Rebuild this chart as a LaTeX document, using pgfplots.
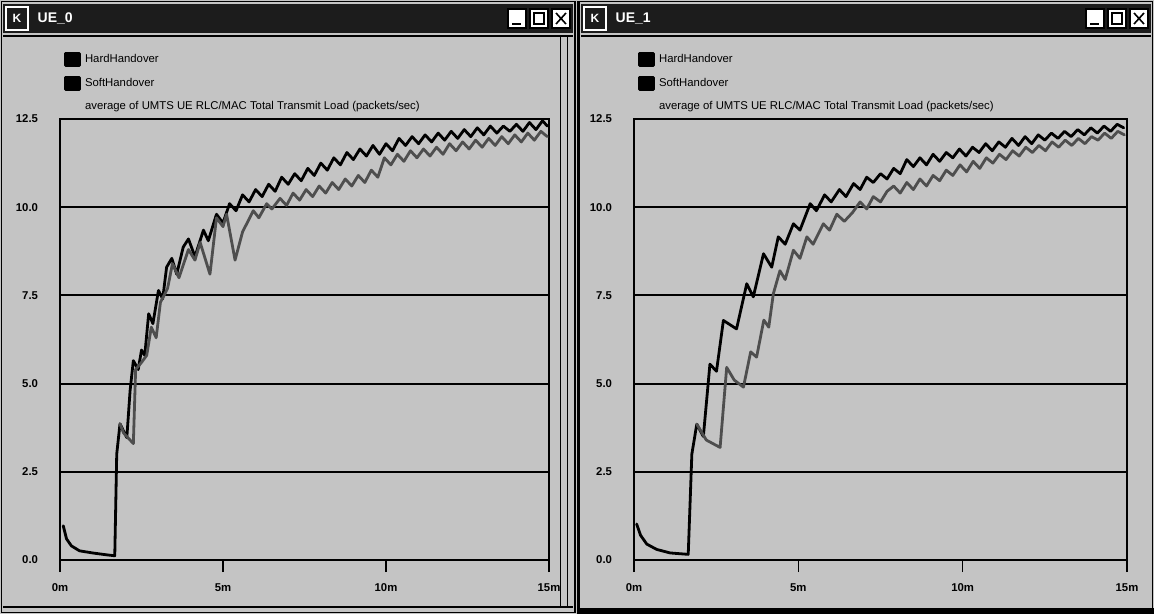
\documentclass[border=0pt]{standalone}
\usepackage{pgfplots}
\pgfplotsset{compat=1.18}
\usepackage{fontspec}
\setmainfont{Liberation Sans}
\definecolor{wingray}{RGB}{196,196,196}
\definecolor{bargray}{RGB}{28,28,28}
\definecolor{softline}{RGB}{78,78,78}

\pgfplotsset{
  panel/.style={
    scale only axis,
    height=330.75pt,
    anchor=south west,
    xmin=0, xmax=15, ymin=0, ymax=12.5,
    xtick={0,5,10,15}, xticklabels={0m,5m,10m,15m},
    ytick={0,2.5,5,7.5,10,12.5},
    yticklabels={0.0,2.5,5.0,7.5,10.0,12.5},
    ymajorgrids,
    major grid style={black, line width=1.5pt},
    axis line style={black, line width=0.8pt},
    x axis line style={line width=1.8pt},
    tick align=outside,
    xtick pos=lower, ytick pos=left,
    major tick length=9pt,
    xtick style={black, line width=1.2pt},
    ytick style={draw=none},
    tick label style={font=\bfseries\fontsize{8.5}{10}\selectfont},
    xticklabel style={yshift=-5pt},
    yticklabel style={xshift=-4pt},
    /pgf/number format/assume math mode=true,
    legend image code/.code={\fill[black] (0pt,-4.5pt) rectangle (10.5pt,4.5pt);},
    legend cell align=left,
    legend style={draw=none, fill=none, anchor=north west,
      font=\fontsize{8.5}{10}\selectfont,
      nodes={inner sep=0.5pt, text height=6.5pt, text depth=2pt},
      row sep=7pt, column sep=2.5pt},
    every axis plot/.append style={line width=2.1pt, line join=round, line cap=round},
  }
}

\begin{document}
\begin{tikzpicture}[x=0.75pt,y=-0.75pt]
\path[use as bounding box] (0,0) rectangle (1154,614);
\fill[wingray] (0,0) rectangle (1154,614);

% ---------- left window chrome ----------
\draw[black, line width=1.2pt] (1.5,1.5) rectangle (575,612.5);
\fill[bargray] (3,4) rectangle (573,33);
\draw[white, line width=0.8pt] (6,7) rectangle (28,30);
\node[white, font=\bfseries\fontsize{9}{10}\selectfont] at (17,18.5) {K};
\node[anchor=west, white, font=\bfseries\fontsize{10.5}{12}\selectfont] at (33,18.5) {UE\_0};
\foreach \bx in {508,530,552}{\fill[white] (\bx,9) rectangle (\bx+18,28); \draw[black, line width=0.8pt] (\bx,9) rectangle (\bx+18,28);}
\draw[black, line width=1.2pt] (512,24) -- (521,24);
\draw[black, line width=1pt] (534,13) rectangle (544,24);
\draw[black, line width=1.2pt] (556,13) -- (566,24) (556,24) -- (566,13);
\draw[black, line width=0.8pt] (3,36) -- (573,36);
\draw[black, line width=0.6pt] (560,36) -- (560,606);
\draw[black, line width=0.6pt] (567,36) -- (567,606);
\draw[black, line width=1.2pt] (3,607) -- (573,607);

% ---------- right window chrome ----------
\draw[black, line width=2pt] (578,1) -- (578,614);
\draw[black, line width=1.2pt] (579,1.5) rectangle (1152.5,612.5);
\fill[bargray] (581,4) rectangle (1151,33);
\draw[white, line width=0.8pt] (584,7) rectangle (606,30);
\node[white, font=\bfseries\fontsize{9}{10}\selectfont] at (595,18.5) {K};
\node[anchor=west, white, font=\bfseries\fontsize{10.5}{12}\selectfont] at (611,18.5) {UE\_1};
\foreach \bx in {1086,1108,1130}{\fill[white] (\bx,9) rectangle (\bx+18,28); \draw[black, line width=0.8pt] (\bx,9) rectangle (\bx+18,28);}
\draw[black, line width=1.2pt] (1090,24) -- (1099,24);
\draw[black, line width=1pt] (1112,13) rectangle (1122,24);
\draw[black, line width=1.2pt] (1134,13) -- (1144,24) (1134,24) -- (1144,13);
\draw[black, line width=0.8pt] (581,36) -- (1151,36);
\fill[black] (579,608) rectangle (1154,614);

% ---------- left panel ----------
\begin{axis}[panel, at={(45pt,-420pt)}, width=366.75pt,
  legend style={at={(0.0,1.158)}}]
\addplot[black] coordinates {
(0.10,0.97) (0.20,0.60) (0.35,0.40) (0.60,0.26) (1.00,0.20) (1.40,0.15) (1.68,0.12)
(1.74,3.00) (1.84,3.86) (2.05,3.47) (2.15,4.80) (2.25,5.65) (2.40,5.40) (2.50,5.95)
(2.60,5.80) (2.72,6.98) (2.85,6.70) (3.02,7.64) (3.15,7.40) (3.27,8.30) (3.43,8.55)
(3.58,8.10) (3.78,8.87) (3.94,9.10) (4.14,8.60) (4.40,9.35) (4.55,9.05) (4.80,9.80)
(5.00,9.55) (5.20,10.10) (5.40,9.90) (5.60,10.35) (5.80,10.15) (6.00,10.50) (6.20,10.30)
(6.40,10.65) (6.60,10.45) (6.80,10.85) (7.00,10.65) (7.20,10.95) (7.40,10.75) (7.60,11.10)
(7.80,10.90) (8.00,11.25) (8.20,11.05) (8.40,11.40) (8.60,11.20) (8.80,11.55) (9.00,11.35)
(9.20,11.65) (9.40,11.45) (9.60,11.75) (9.80,11.50) (10.00,11.80) (10.20,11.60) (10.40,11.95)
(10.60,11.75) (10.80,12.00) (11.00,11.80) (11.20,12.05) (11.40,11.85) (11.60,12.10) (11.80,11.90)
(12.00,12.15) (12.20,11.95) (12.40,12.20) (12.60,12.00) (12.80,12.25) (13.00,12.05) (13.20,12.30)
(13.40,12.10) (13.60,12.30) (13.80,12.15) (14.00,12.35) (14.20,12.15) (14.40,12.40) (14.60,12.20)
(14.80,12.45) (14.95,12.30)
};
\addlegendentry{HardHandover}
\addplot[softline] coordinates {
(1.84,3.86) (1.95,3.60) (2.25,3.30) (2.32,5.40) (2.50,5.60) (2.66,5.80) (2.80,6.60)
(2.95,6.30) (3.08,7.30) (3.30,7.70) (3.45,8.40) (3.65,8.00) (3.94,8.80) (4.14,8.50)
(4.30,9.00) (4.60,8.10) (4.80,9.70) (5.00,9.45) (5.11,9.80) (5.37,8.50) (5.60,9.30)
(5.93,9.90) (6.10,9.70) (6.34,10.10) (6.50,9.95) (6.75,10.25) (6.95,10.05) (7.15,10.40)
(7.35,10.20) (7.55,10.50) (7.75,10.30) (7.95,10.60) (8.15,10.40) (8.35,10.70) (8.55,10.50)
(8.75,10.80) (8.95,10.60) (9.15,10.90) (9.35,10.70) (9.55,11.05) (9.75,10.85) (9.95,11.40)
(10.15,11.20) (10.35,11.50) (10.55,11.30) (10.75,11.60) (10.95,11.40) (11.15,11.65) (11.35,11.45)
(11.55,11.70) (11.75,11.50) (11.95,11.80) (12.15,11.60) (12.35,11.85) (12.55,11.65) (12.75,11.90)
(12.95,11.70) (13.15,11.95) (13.35,11.75) (13.55,12.00) (13.75,11.80) (13.95,12.05) (14.15,11.85)
(14.35,12.10) (14.55,11.90) (14.75,12.15) (14.95,12.00)
};
\addlegendentry{SoftHandover}
\addlegendimage{empty legend}
\addlegendentry{average of UMTS UE RLC/MAC Total Transmit Load (packets/sec)}
\end{axis}

% ---------- right panel ----------
\begin{axis}[panel, at={(475.5pt,-420pt)}, width=369.75pt,
  legend style={at={(0.0,1.158)}}]
\addplot[black] coordinates {
(0.08,1.02) (0.20,0.70) (0.39,0.45) (0.69,0.30) (1.10,0.20) (1.65,0.16) (1.76,3.00)
(1.91,3.85) (2.11,3.50) (2.31,5.55) (2.51,5.35) (2.72,6.79) (3.12,6.55) (3.43,7.83)
(3.63,7.46) (3.94,8.68) (4.19,8.30) (4.39,9.16) (4.60,8.95) (4.85,9.53) (5.05,9.35)
(5.36,10.10) (5.55,9.90) (5.80,10.35) (6.00,10.15) (6.25,10.50) (6.45,10.30) (6.68,10.67)
(6.88,10.50) (7.08,10.85) (7.28,10.70) (7.50,10.95) (7.70,10.80) (7.90,11.10) (8.10,10.95)
(8.30,11.35) (8.50,11.15) (8.70,11.40) (8.90,11.20) (9.10,11.50) (9.30,11.30) (9.50,11.55)
(9.70,11.40) (9.90,11.65) (10.10,11.45) (10.30,11.70) (10.50,11.55) (10.70,11.80) (10.90,11.60)
(11.10,11.85) (11.30,11.70) (11.50,11.95) (11.70,11.75) (11.90,12.00) (12.10,11.80) (12.30,12.05)
(12.50,11.90) (12.70,12.10) (12.90,11.95) (13.10,12.15) (13.30,12.00) (13.50,12.20) (13.70,12.05)
(13.90,12.25) (14.10,12.10) (14.30,12.30) (14.50,12.15) (14.70,12.35) (14.90,12.25)
};
\addlegendentry{HardHandover}
\addplot[softline] coordinates {
(1.91,3.85) (2.20,3.40) (2.62,3.19) (2.82,5.46) (3.05,5.10) (3.33,4.90) (3.55,5.90)
(3.73,5.75) (3.95,6.80) (4.10,6.60) (4.24,7.55) (4.44,8.20) (4.60,7.95) (4.85,8.78)
(5.05,8.55) (5.26,9.16) (5.45,8.95) (5.76,9.53) (5.95,9.35) (6.17,9.80) (6.40,9.60)
(6.65,9.85) (6.88,10.15) (7.08,9.95) (7.28,10.30) (7.50,10.15) (7.70,10.45) (7.90,10.60)
(8.10,10.40) (8.30,10.70) (8.50,10.50) (8.70,10.80) (8.90,10.60) (9.10,10.90) (9.30,10.75)
(9.50,11.05) (9.70,10.90) (9.92,11.20) (10.12,11.00) (10.32,11.30) (10.52,11.10) (10.72,11.40)
(10.92,11.25) (11.12,11.50) (11.32,11.35) (11.52,11.60) (11.72,11.45) (11.92,11.70) (12.12,11.55)
(12.32,11.75) (12.52,11.60) (12.72,11.85) (12.92,11.70) (13.12,11.90) (13.32,11.75) (13.52,11.95)
(13.72,11.80) (13.92,12.00) (14.12,11.90) (14.32,12.10) (14.52,11.95) (14.72,12.15) (14.92,12.05)
};
\addlegendentry{SoftHandover}
\addlegendimage{empty legend}
\addlegendentry{average of UMTS UE RLC/MAC Total Transmit Load (packets/sec)}
\end{axis}
\end{tikzpicture}
\end{document}
